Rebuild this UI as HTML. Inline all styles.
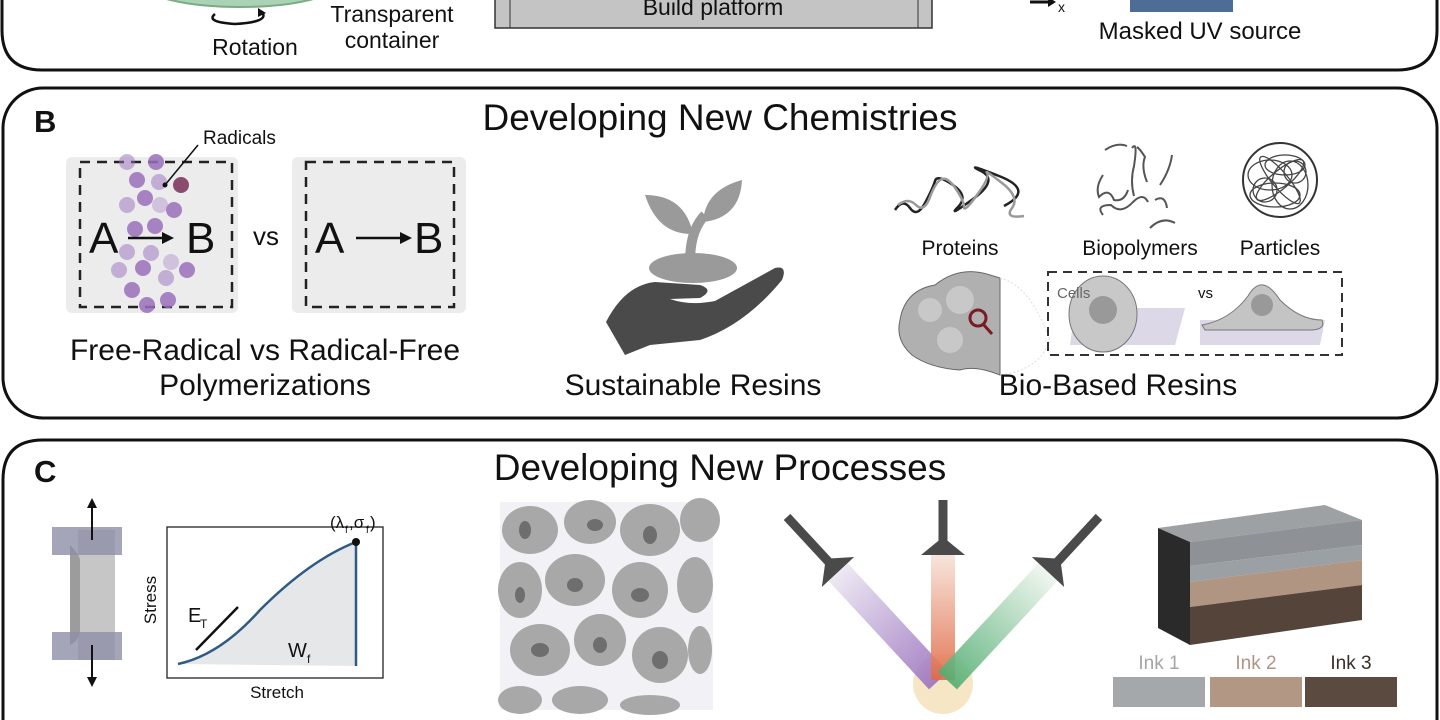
<!DOCTYPE html>
<html><head><meta charset="utf-8"><style>
html,body{margin:0;padding:0;background:#fff;width:1440px;height:720px;overflow:hidden;}
svg{display:block;}
text{font-family:"Liberation Sans",sans-serif;fill:#111;}
</style></head><body>
<svg width="1440" height="720" viewBox="0 0 1440 720" xmlns="http://www.w3.org/2000/svg">
<defs>
<linearGradient id="gp" x1="0" y1="0" x2="1" y2="0"><stop offset="0" stop-color="#ece6f2"/><stop offset="1" stop-color="#9a72bf"/></linearGradient>
<linearGradient id="gr" x1="0" y1="0" x2="1" y2="0"><stop offset="0" stop-color="#f6e2d8"/><stop offset="1" stop-color="#e06a45"/></linearGradient>
<linearGradient id="gg" x1="0" y1="0" x2="1" y2="0"><stop offset="0" stop-color="#eef5ee"/><stop offset="1" stop-color="#52ad72"/></linearGradient>
</defs>

<!-- Panel A -->
<path d="M2,-60 V30 Q2,70 42,70 H1397 Q1437,70 1437,30 V-60" fill="none" stroke="#111" stroke-width="3"/>
<ellipse cx="240" cy="-15" rx="95" ry="22" fill="#a9d3b4" stroke="#7aaa86" stroke-width="2"/>
<path d="M262,12 Q270,22 235,24 Q205,22 215,14" fill="none" stroke="#111" stroke-width="2.5"/>
<path d="M258,8 L266,13 L258,17 Z" fill="#111"/>
<text x="255" y="55" font-size="23" text-anchor="middle">Rotation</text>
<text x="392" y="22" font-size="23" text-anchor="middle">Transparent</text>
<text x="392" y="48" font-size="23" text-anchor="middle">container</text>
<rect x="495" y="-10" width="437" height="38" fill="#c4c4c4" stroke="#333" stroke-width="1.5"/>
<line x1="510" y1="-10" x2="510" y2="28" stroke="#333"/>
<line x1="918" y1="-10" x2="918" y2="28" stroke="#333"/>
<text x="713" y="15" font-size="23" text-anchor="middle">Build platform</text>
<path d="M1030,2 H1050" stroke="#111" stroke-width="3"/><path d="M1048,-3 L1056,2 L1048,7Z" fill="#111"/>
<text x="1058" y="12" font-size="14">x</text>
<rect x="1130" y="-10" width="103" height="22" fill="#4d6d96"/>
<text x="1200" y="39" font-size="24" text-anchor="middle">Masked UV source</text>

<!-- Panel B -->
<rect x="3" y="88" width="1434" height="330" rx="40" fill="none" stroke="#111" stroke-width="3"/>
<text x="34" y="132" font-size="31" font-weight="bold">B</text>
<text x="720" y="130" font-size="37" text-anchor="middle">Developing New Chemistries</text>
<rect x="66" y="157" width="172" height="156" rx="6" fill="#ececec"/>
<rect x="80" y="162" width="152" height="145" fill="none" stroke="#222" stroke-width="2.5" stroke-dasharray="10,7"/>
<g fill="#9a70bd" opacity="0.85">
<circle cx="127" cy="162" r="8" opacity=".6"/><circle cx="156" cy="162" r="8"/><circle cx="137" cy="180" r="8"/><circle cx="159" cy="182" r="8" opacity=".6"/>
<circle cx="145" cy="198" r="8"/><circle cx="127" cy="205" r="8" opacity=".6"/><circle cx="160" cy="205" r="8" opacity=".4"/><circle cx="174" cy="210" r="8"/>
<circle cx="135" cy="229" r="8"/><circle cx="155" cy="226" r="8"/><circle cx="127" cy="252" r="8" opacity=".6"/><circle cx="151" cy="253" r="8" opacity=".6"/>
<circle cx="171" cy="262" r="8" opacity=".4"/><circle cx="119" cy="270" r="8" opacity=".6"/><circle cx="143" cy="268" r="8"/><circle cx="166" cy="278" r="8" opacity=".6"/>
<circle cx="187" cy="270" r="8"/><circle cx="132" cy="290" r="8"/><circle cx="147" cy="305" r="8"/><circle cx="168" cy="300" r="8"/>
</g>
<circle cx="181" cy="185" r="8" fill="#8a4c6e"/>
<line x1="165" y1="185" x2="198" y2="145" stroke="#111" stroke-width="1.5"/><circle cx="165" cy="185" r="2.5" fill="#111"/>
<text x="203" y="144" font-size="19">Radicals</text>
<text x="89" y="253" font-size="44">A</text>
<line x1="128" y1="238" x2="165" y2="238" stroke="#111" stroke-width="2.5"/><path d="M162,232 L174,238 L162,244Z" fill="#111"/>
<text x="186" y="253" font-size="44">B</text>
<text x="266" y="245" font-size="26" text-anchor="middle">vs</text>
<rect x="292" y="157" width="174" height="156" rx="6" fill="#ececec"/>
<rect x="306" y="162" width="148" height="145" fill="none" stroke="#222" stroke-width="2.5" stroke-dasharray="10,7"/>
<text x="315" y="253" font-size="44">A</text>
<line x1="356" y1="238" x2="402" y2="238" stroke="#111" stroke-width="2.5"/><path d="M400,232 L412,238 L400,244Z" fill="#111"/>
<text x="414" y="253" font-size="44">B</text>
<text x="265" y="360" font-size="30" text-anchor="middle">Free-Radical vs Radical-Free</text>
<text x="265" y="395" font-size="30" text-anchor="middle">Polymerizations</text>
<!-- hand -->
<path d="M690,262 Q690,230 705,215" stroke="#9a9a9a" stroke-width="10" fill="none"/>
<path d="M693,234 Q658,235 645,195 Q685,195 693,234Z" fill="#9a9a9a"/>
<path d="M703,222 Q705,190 742,180 Q740,218 703,222Z" fill="#9a9a9a"/>
<ellipse cx="693" cy="268" rx="44" ry="15" fill="#9a9a9a"/>
<path d="M606,322 Q625,285 655,282 L700,285 Q715,290 700,298 L670,299 Q690,306 715,301 L775,268 Q788,265 782,280 Q745,325 700,340 L650,345 L625,355 Z" fill="#4a4a4a"/>
<text x="693" y="395" font-size="30" text-anchor="middle">Sustainable Resins</text>
<!-- proteins -->
<path d="M895,210 q8,-12 15,-2 t15,-5 t10,-22 t18,4 t5,22 t15,-8 t8,-28 t18,5 t5,30" fill="none" stroke="#222" stroke-width="2.5"/>
<path d="M898,205 q10,-8 18,0 t14,-8 t12,-18 t14,10 t8,18 t13,-12 t10,-22 t15,10 t10,25 t12,8" fill="none" stroke="#999" stroke-width="2.5"/>
<g fill="none" stroke="#555" stroke-width="2">
<path d="M1105,150 q12,-8 22,-4"/><path d="M1132,148 q6,-8 2,18 q-4,15 0,30"/><path d="M1147,182 q-6,-15 -2,-25 q-5,-8 -8,-10"/><path d="M1160,185 q10,-15 12,-30"/>
<path d="M1103,175 q-8,12 -4,22 q10,-10 15,3 q10,2 14,-10"/><path d="M1155,200 q10,-6 12,8"/><path d="M1103,215 q-8,-10 8,-10 q10,10 22,-3 q10,-10 15,0"/><path d="M1150,228 q12,-12 25,-5"/>
</g>
<text x="960" y="255" font-size="21" text-anchor="middle">Proteins</text>
<text x="1140" y="255" font-size="21" text-anchor="middle">Biopolymers</text>
<circle cx="1280" cy="180" r="37" fill="none" stroke="#333" stroke-width="2"/>
<g fill="none" stroke="#444" stroke-width="1.3">
<ellipse cx="1270" cy="175" rx="22" ry="15"/><ellipse cx="1290" cy="185" rx="18" ry="24"/><ellipse cx="1275" cy="195" rx="25" ry="12"/><ellipse cx="1285" cy="165" rx="20" ry="10"/><circle cx="1265" cy="190" r="12"/><circle cx="1295" cy="172" r="11"/><ellipse cx="1280" cy="180" rx="30" ry="8" transform="rotate(50 1280 180)"/><ellipse cx="1280" cy="180" rx="30" ry="9" transform="rotate(-40 1280 180)"/>
</g>
<text x="1280" y="255" font-size="21" text-anchor="middle">Particles</text>
<path d="M900,320 Q905,290 935,285 Q960,265 990,275 L1000,278 L1000,375 Q975,365 960,370 Q930,368 912,355 Q895,340 900,320Z" fill="#b0b0b0" stroke="#666"/>
<circle cx="930" cy="310" r="12" fill="#c8c8c8"/><circle cx="960" cy="300" r="14" fill="#c8c8c8"/><circle cx="950" cy="340" r="13" fill="#c8c8c8"/>
<path d="M1000,278 Q1030,285 1050,340 Q1040,370 1000,375" fill="none" stroke="#ddd" stroke-dasharray="2,2"/>
<circle cx="978" cy="318" r="8" fill="none" stroke="#7a1a22" stroke-width="3"/><line x1="983" y1="324" x2="992" y2="334" stroke="#7a1a22" stroke-width="3"/>
<rect x="1048" y="272" width="294" height="83" fill="none" stroke="#333" stroke-width="2" stroke-dasharray="9,6"/>
<path d="M1075,308 H1185 L1175,345 H1070Z" fill="#ddd8e8"/>
<ellipse cx="1103" cy="314" rx="34" ry="38" fill="#c8c8c8" stroke="#777"/>
<circle cx="1103" cy="310" r="14" fill="#999"/>
<text x="1057" y="298" font-size="15" style="fill:#666">Cells</text>
<text x="1198" y="298" font-size="15">vs</text>
<path d="M1200,320 H1325 L1320,345 H1200Z" fill="#ddd8e8"/>
<path d="M1202,325 Q1230,320 1248,296 Q1262,272 1280,300 Q1300,320 1322,320 Q1326,330 1310,330 H1205Z" fill="#c4c4c4" stroke="#777"/>
<circle cx="1262" cy="305" r="11" fill="#999"/>
<text x="1118" y="395" font-size="30" text-anchor="middle">Bio-Based Resins</text>

<!-- Panel C -->
<path d="M3,760 V480 Q3,440 43,440 H1397 Q1437,440 1437,480 V760" fill="none" stroke="#111" stroke-width="3"/>
<text x="34" y="482" font-size="31" font-weight="bold">C</text>
<text x="720" y="480" font-size="37" text-anchor="middle">Developing New Processes</text>
<!-- dogbone -->
<path d="M78,530 H115 V660 H78 Z" fill="#c6c6c6"/>
<path d="M70,545 Q80,555 80,560 V630 Q80,640 70,645" fill="#9c9c9c"/>
<rect x="52" y="527" width="70" height="28" fill="#8e8ea8" opacity=".8"/>
<rect x="52" y="632" width="70" height="28" fill="#8e8ea8" opacity=".8"/>
<line x1="92" y1="540" x2="92" y2="505" stroke="#111" stroke-width="2"/><path d="M87,508 L92,498 L97,508Z" fill="#111"/>
<line x1="92" y1="645" x2="92" y2="680" stroke="#111" stroke-width="2"/><path d="M87,677 L92,687 L97,677Z" fill="#111"/>
<!-- plot -->
<rect x="167" y="527" width="216" height="151" fill="#fff" stroke="#222" stroke-width="1.3"/>
<path d="M178,664 Q220,655 260,610 Q310,560 356,542 V666 Z" fill="#e6e7e9"/>
<path d="M178,664 Q220,655 260,610 Q310,560 356,542 V666" fill="none" stroke="#2e5a85" stroke-width="2.5"/>
<circle cx="356" cy="542" r="4" fill="#111"/>
<line x1="196" y1="650" x2="238" y2="607" stroke="#111" stroke-width="2.5"/>
<text x="188" y="622" font-size="20">E</text><text x="200" y="628" font-size="12">T</text>
<text x="288" y="657" font-size="20">W</text><text x="307" y="663" font-size="12">f</text>
<text x="330" y="528" font-size="17">(λ</text><text x="345" y="533" font-size="10">f</text><text x="349" y="528" font-size="17">,σ</text><text x="366" y="533" font-size="10">f</text><text x="370" y="528" font-size="17">)</text>
<text x="277" y="698" font-size="17" text-anchor="middle">Stretch</text>
<text x="156" y="600" font-size="17" text-anchor="middle" transform="rotate(-90 156 600)">Stress</text>
<!-- foam -->
<rect x="500" y="502" width="213" height="208" fill="#f2f2f6"/>
<g fill="#a8a8a8">
<ellipse cx="530" cy="530" rx="28" ry="24"/><ellipse cx="590" cy="522" rx="26" ry="22"/><ellipse cx="650" cy="530" rx="30" ry="26"/><ellipse cx="700" cy="520" rx="20" ry="22"/>
<ellipse cx="520" cy="590" rx="22" ry="28"/><ellipse cx="575" cy="580" rx="30" ry="26"/><ellipse cx="640" cy="590" rx="28" ry="28"/><ellipse cx="695" cy="585" rx="18" ry="28"/>
<ellipse cx="540" cy="650" rx="30" ry="26"/><ellipse cx="600" cy="640" rx="26" ry="26"/><ellipse cx="660" cy="655" rx="28" ry="28"/><ellipse cx="700" cy="650" rx="12" ry="24"/>
<ellipse cx="520" cy="700" rx="22" ry="14"/><ellipse cx="580" cy="700" rx="28" ry="14"/><ellipse cx="650" cy="705" rx="30" ry="10"/>
</g>
<g fill="#6e6e6e">
<ellipse cx="525" cy="530" rx="6" ry="9"/><ellipse cx="595" cy="525" rx="8" ry="6"/><ellipse cx="650" cy="535" rx="7" ry="9"/><ellipse cx="575" cy="585" rx="8" ry="7"/>
<ellipse cx="640" cy="595" rx="9" ry="7"/><ellipse cx="540" cy="650" rx="9" ry="7"/><ellipse cx="600" cy="645" rx="7" ry="8"/><ellipse cx="660" cy="660" rx="8" ry="9"/><ellipse cx="520" cy="595" rx="5" ry="8"/>
</g>
<!-- beams -->
<circle cx="943" cy="684" r="30" fill="#f6e3c0" opacity=".9"/>
<g transform="translate(838,572) rotate(47.2)">
<rect x="0" y="-13" width="148" height="26" fill="url(#gp)" opacity=".9"/>
<polygon points="0,-22 0,22 -18,0" fill="#4a4a4a"/>
<rect x="-75" y="-4.5" width="65" height="9" fill="#4a4a4a"/>
</g>
<g transform="translate(943,555) rotate(90)">
<rect x="0" y="-12" width="125" height="24" fill="url(#gr)" opacity=".9"/>
<polygon points="0,-22 0,22 -18,0" fill="#4a4a4a"/>
<rect x="-55" y="-4.5" width="45" height="9" fill="#4a4a4a"/>
</g>
<g transform="translate(1048,572) rotate(132.8)">
<rect x="0" y="-13" width="148" height="26" fill="url(#gg)" opacity=".9"/>
<polygon points="0,-22 0,22 -18,0" fill="#4a4a4a"/>
<rect x="-75" y="-4.5" width="65" height="9" fill="#4a4a4a"/>
</g>
<!-- block -->
<polygon points="1158,528 1325,505 1362,520 1190,542" fill="#9ea1a4"/>
<polygon points="1158,528 1190,542 1190,645 1158,628" fill="#2a2a2a"/>
<polygon points="1190,542 1362,520 1362,545 1190,566" fill="#8e9296"/>
<polygon points="1190,566 1362,545 1362,560 1190,582" fill="#9aa0a4"/>
<polygon points="1190,582 1362,560 1362,585 1190,607" fill="#b09583"/>
<polygon points="1190,607 1362,585 1362,620 1190,645" fill="#55443a"/>
<text x="1159" y="669" font-size="19" text-anchor="middle" style="fill:#a5a5a5">Ink 1</text>
<text x="1256" y="669" font-size="19" text-anchor="middle" style="fill:#b09583">Ink 2</text>
<text x="1351" y="669" font-size="19" text-anchor="middle" style="fill:#3a2e28">Ink 3</text>
<rect x="1113" y="677" width="92" height="30" fill="#a5a8aa"/>
<rect x="1210" y="677" width="92" height="30" fill="#b39785"/>
<rect x="1305" y="677" width="92" height="30" fill="#5b4a40"/>
</svg>
</body></html>
